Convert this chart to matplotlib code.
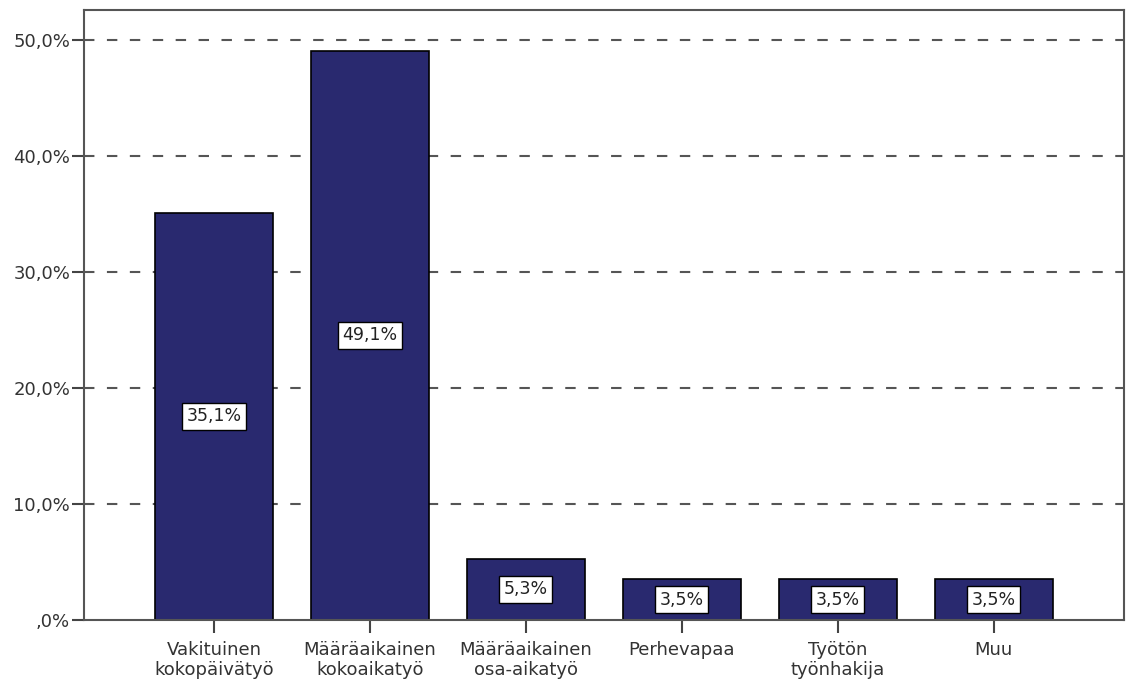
import numpy as np
import matplotlib.pyplot as plt

categories = ['Vakituinen\nkokopäivätyö', 'Määräaikainen\nkokoaikatyö', 'Määräaikainen\nosa-aikatyö',
              'Perhevapaa', 'Työtön\ntyönhakija', 'Muu']
values     = [35.1, 49.1, 5.3, 3.5, 3.5, 3.5]
labels     = ['35,1%', '49,1%', '5,3%', '3,5%', '3,5%', '3,5%']
yticks     = [0, 10, 20, 30, 40, 50]
yticklabels = [',0%', '10,0%', '20,0%', '30,0%', '40,0%', '50,0%']

plt.rcParams['font.family'] = ['DejaVu Sans']
fig, ax = plt.subplots(figsize=(11.26, 6.88), dpi=100)
fig.subplots_adjust(left=0.0746, right=0.998, top=0.9855, bottom=0.0988)

x = np.arange(len(categories))
ax.set_xlim(-0.833, 5.833)
ax.set_ylim(0, 52.6)

for yv in yticks[1:]:
    ax.axhline(yv, color='#555555', ls=(0, (5, 6)), lw=1.5, zorder=1)

ax.bar(x, values, width=0.756, color='#29296f', edgecolor='black', linewidth=1.2, zorder=2)

for xi, v, lab in zip(x, values, labels):
    ax.text(xi, v / 2, lab, ha='center', va='center', fontsize=12.5, color='#222222', zorder=3,
            bbox=dict(boxstyle='square,pad=0.25', facecolor='white', edgecolor='black', linewidth=1.0))

ax.set_xticks(x)
ax.set_xticklabels(categories, fontsize=13, color='#333333', linespacing=1.15)
ax.set_yticks(yticks)
ax.set_yticklabels(yticklabels, fontsize=13, color='#333333')
ax.tick_params(axis='both', direction='out', length=9, width=1.5, color='#444444', pad=1)
ax.tick_params(axis='x', pad=6)

for side in ['left', 'right', 'top', 'bottom']:
    ax.spines[side].set_color('#555555')
    ax.spines[side].set_linewidth(1.5)

fig.savefig('out.png', dpi=100)
